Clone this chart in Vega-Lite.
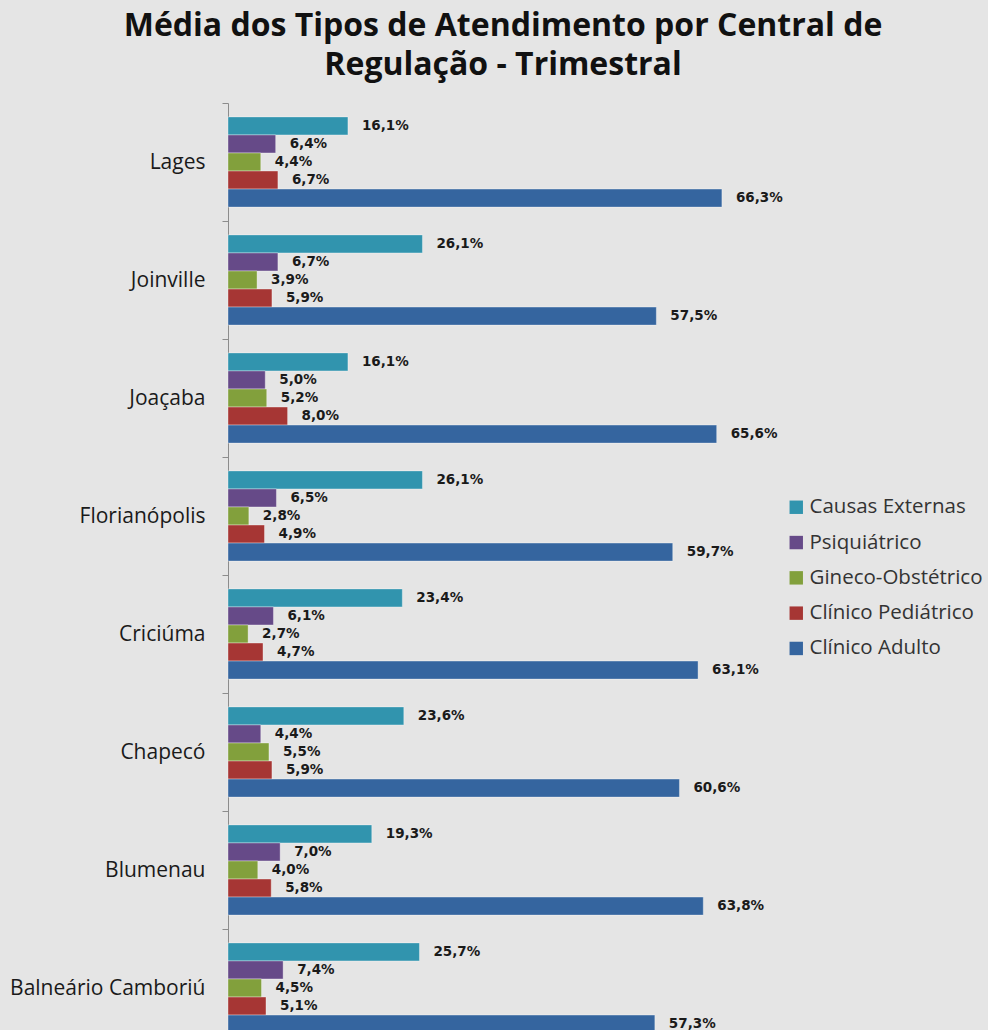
{
  "$schema": "https://vega.github.io/schema/vega-lite/v6.json",
  "autosize": "none",
  "width": 550,
  "height": 944,
  "padding": {"left": 228, "top": 103, "right": 210, "bottom": 0},
  "background": "#e5e5e5",
  "config": {
    "view": {"stroke": null},
    "locale": {"number": {"decimal": ",", "thousands": ".", "grouping": [3], "currency": ["R$", ""]}}
  },
  "title": {
    "text": ["Média dos Tipos de Atendimento por Central de", "Regulação - Trimestral"],
    "font": "Open Sans",
    "fontSize": 32,
    "fontWeight": "bold",
    "color": "#111111",
    "lineHeight": 39,
    "anchor": "middle",
    "offset": 10
  },
  "data": {
    "values": [
      {"central": "Lages", "tipo": "Causas Externas", "v": 0.161},
      {"central": "Lages", "tipo": "Psiquiátrico", "v": 0.064},
      {"central": "Lages", "tipo": "Gineco-Obstétrico", "v": 0.044},
      {"central": "Lages", "tipo": "Clínico Pediátrico", "v": 0.067},
      {"central": "Lages", "tipo": "Clínico Adulto", "v": 0.663},
      {"central": "Joinville", "tipo": "Causas Externas", "v": 0.261},
      {"central": "Joinville", "tipo": "Psiquiátrico", "v": 0.067},
      {"central": "Joinville", "tipo": "Gineco-Obstétrico", "v": 0.039},
      {"central": "Joinville", "tipo": "Clínico Pediátrico", "v": 0.059},
      {"central": "Joinville", "tipo": "Clínico Adulto", "v": 0.575},
      {"central": "Joaçaba", "tipo": "Causas Externas", "v": 0.161},
      {"central": "Joaçaba", "tipo": "Psiquiátrico", "v": 0.050},
      {"central": "Joaçaba", "tipo": "Gineco-Obstétrico", "v": 0.052},
      {"central": "Joaçaba", "tipo": "Clínico Pediátrico", "v": 0.080},
      {"central": "Joaçaba", "tipo": "Clínico Adulto", "v": 0.656},
      {"central": "Florianópolis", "tipo": "Causas Externas", "v": 0.261},
      {"central": "Florianópolis", "tipo": "Psiquiátrico", "v": 0.065},
      {"central": "Florianópolis", "tipo": "Gineco-Obstétrico", "v": 0.028},
      {"central": "Florianópolis", "tipo": "Clínico Pediátrico", "v": 0.049},
      {"central": "Florianópolis", "tipo": "Clínico Adulto", "v": 0.597},
      {"central": "Criciúma", "tipo": "Causas Externas", "v": 0.234},
      {"central": "Criciúma", "tipo": "Psiquiátrico", "v": 0.061},
      {"central": "Criciúma", "tipo": "Gineco-Obstétrico", "v": 0.027},
      {"central": "Criciúma", "tipo": "Clínico Pediátrico", "v": 0.047},
      {"central": "Criciúma", "tipo": "Clínico Adulto", "v": 0.631},
      {"central": "Chapecó", "tipo": "Causas Externas", "v": 0.236},
      {"central": "Chapecó", "tipo": "Psiquiátrico", "v": 0.044},
      {"central": "Chapecó", "tipo": "Gineco-Obstétrico", "v": 0.055},
      {"central": "Chapecó", "tipo": "Clínico Pediátrico", "v": 0.059},
      {"central": "Chapecó", "tipo": "Clínico Adulto", "v": 0.606},
      {"central": "Blumenau", "tipo": "Causas Externas", "v": 0.193},
      {"central": "Blumenau", "tipo": "Psiquiátrico", "v": 0.070},
      {"central": "Blumenau", "tipo": "Gineco-Obstétrico", "v": 0.040},
      {"central": "Blumenau", "tipo": "Clínico Pediátrico", "v": 0.058},
      {"central": "Blumenau", "tipo": "Clínico Adulto", "v": 0.638},
      {"central": "Balneário Camboriú", "tipo": "Causas Externas", "v": 0.257},
      {"central": "Balneário Camboriú", "tipo": "Psiquiátrico", "v": 0.074},
      {"central": "Balneário Camboriú", "tipo": "Gineco-Obstétrico", "v": 0.045},
      {"central": "Balneário Camboriú", "tipo": "Clínico Pediátrico", "v": 0.051},
      {"central": "Balneário Camboriú", "tipo": "Clínico Adulto", "v": 0.573}
    ]
  },
  "encoding": {
    "y": {
      "field": "central",
      "type": "nominal",
      "sort": null,
      "scale": {"paddingInner": 0, "paddingOuter": 0},
      "axis": {
        "title": null,
        "domainColor": "#8c8c8c",
        "tickColor": "#8c8c8c",
        "tickSize": 6,
        "tickBand": "extent",
        "labelFont": "Open Sans",
        "labelFontSize": 21,
        "labelColor": "#1a1a1a",
        "labelPadding": 17,
        "labelLimit": 0
      }
    },
    "yOffset": {
      "field": "tipo",
      "type": "nominal",
      "sort": ["Causas Externas", "Psiquiátrico", "Gineco-Obstétrico", "Clínico Pediátrico", "Clínico Adulto"],
      "scale": {"paddingInner": 0, "paddingOuter": 0.77}
    },
    "x": {
      "field": "v",
      "type": "quantitative",
      "scale": {"domain": [0, 0.7383], "nice": false},
      "axis": null
    }
  },
  "layer": [
    {
      "mark": {"type": "bar", "stroke": "#ffffff", "strokeOpacity": 0.35, "strokeWidth": 1},
      "encoding": {
        "color": {
          "field": "tipo",
          "type": "nominal",
          "sort": ["Causas Externas", "Psiquiátrico", "Gineco-Obstétrico", "Clínico Pediátrico", "Clínico Adulto"],
          "scale": {
            "domain": ["Causas Externas", "Psiquiátrico", "Gineco-Obstétrico", "Clínico Pediátrico", "Clínico Adulto"],
            "range": ["#3194ae", "#664a88", "#82a03c", "#a63634", "#35659f"]
          },
          "legend": {
            "title": null,
            "orient": "none",
            "legendX": 558,
            "legendY": 394,
            "symbolType": "square",
            "symbolSize": 180,
            "symbolStrokeWidth": 0,
            "labelFont": "Open Sans",
            "labelFontSize": 20.5,
            "labelColor": "#333333",
            "labelOffset": 3,
            "labelLimit": 0,
            "rowPadding": 14.3
          }
        }
      }
    },
    {
      "mark": {"type": "text", "align": "left", "dx": 14, "font": "DejaVu Sans", "fontWeight": "bold", "fontSize": 13.5, "color": "#1a1a1a", "baseline": "middle"},
      "encoding": {
        "text": {"field": "v", "type": "quantitative", "format": ".1%"}
      }
    }
  ]
}
